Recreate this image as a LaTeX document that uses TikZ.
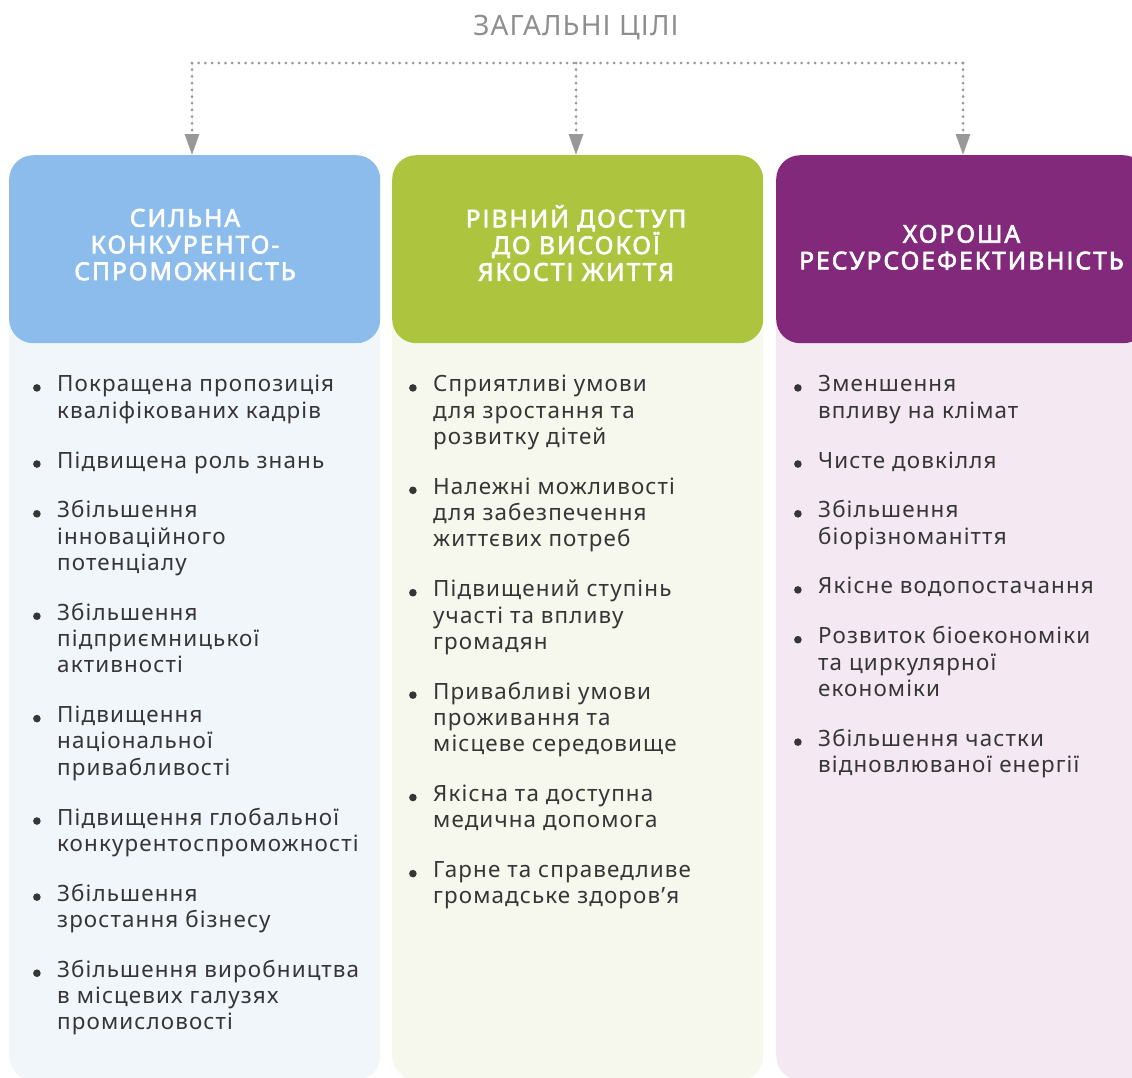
\documentclass[tikz,border=0pt]{standalone}
\usepackage{fontspec}
\setmainfont{Noto Sans}
\newfontfamily\bodyfont[LetterSpace=5]{Noto Sans}
\newfontfamily\titlefont[LetterSpace=4]{Noto Sans}
\newfontfamily\headfont[LetterSpace=8,FakeBold=2.6]{Noto Sans}
\usetikzlibrary{arrows.meta}
\definecolor{hblue}{HTML}{8BBCEB}
\definecolor{hgreen}{HTML}{ADC43F}
\definecolor{hpurple}{HTML}{82297C}
\definecolor{bblue}{HTML}{F1F6FB}
\definecolor{bgreen}{HTML}{F6F8ED}
\definecolor{bpurple}{HTML}{F4E9F2}
\definecolor{txt}{HTML}{363636}
\definecolor{ttl}{HTML}{8E8E8E}
\definecolor{dotc}{HTML}{989898}
\newcommand{\bul}{\llap{\raisebox{4pt}{\tikz[baseline=0pt]\fill[txt] (0pt,0pt) circle (3.8pt);}\hspace{16.5pt}}}
\newcommand{\fst}{\rule{0pt}{20pt}}
\newcommand{\gp}{23.5pt}
\begin{document}
\begin{tikzpicture}[x=1pt,y=-1pt,
  hdrbox/.style={rounded corners=24pt, minimum width=371pt, minimum height=188pt, inner sep=0pt, anchor=north west},
  bodybox/.style={rounded corners=24pt, minimum width=371pt, minimum height=880pt, inner sep=0pt, anchor=north west},
  hdrtext/.style={text=white, align=center, inner sep=0pt, anchor=north, font=\headfont\fontsize{24.6}{26.7}\selectfont},
  listtext/.style={text=txt, align=left, inner sep=0pt, anchor=north west, font=\bodyfont\fontsize{22.4}{26.3}\selectfont},
  dotline/.style={draw=dotc, line width=3pt, line cap=round, dash pattern=on 0pt off 6.7pt},
  dotarrow/.style={dotline, -{Triangle[length=21pt,width=14pt]}, fill=dotc}
]
\useasboundingbox (0,0) rectangle (1132,1077);

% title
\node[text=ttl, font=\titlefont\fontsize{28}{32}\selectfont, inner sep=0pt] (title) at (576,28) {ЗАГАЛЬНІ ЦІЛІ};

% body backgrounds
\node[bodybox, fill=bblue] (b1) at (9,200) {};
\node[bodybox, fill=bgreen] (b2) at (392,200) {};
\node[bodybox, fill=bpurple] (b3) at (776,200) {};

% headers
\node[hdrbox, fill=hblue] (h1) at (9,155) {};
\node[hdrbox, fill=hgreen] (h2) at (392,155) {};
\node[hdrbox, fill=hpurple] (h3) at (776,155) {};

\node[hdrtext] (h1t) at (185,206.5) {\fst СИЛЬНА\\КОНКУРЕНТО-\\СПРОМОЖНІСТЬ};
\node[hdrtext] (h2t) at (576,205) {\fst РІВНИЙ ДОСТУП\\ДО ВИСОКОЇ\\ЯКОСТІ ЖИТТЯ};
\node[hdrtext] (h3t) at (961.5,222.5) {\fst ХОРОША\\РЕСУРСОЕФЕКТИВНІСТЬ};

% connectors
\coordinate (c1) at (192,63);
\coordinate (c2) at (576,63);
\coordinate (c3) at (963,63);
\draw[dotline] (c1) -- (c3);
\draw[dotarrow] (c1) -- (c1 |- h1.north);
\draw[dotarrow] (c2) -- (c2 |- h2.north);
\draw[dotarrow] (c3) -- (c3 |- h3.north);

% lists
\node[listtext] (l1) at (57,371.7) {\fst\bul Покращена пропозиція\\кваліфікованих кадрів\\[\gp]
\bul Підвищена роль знань\\[\gp]
\bul Збільшення\\інноваційного\\потенціалу\\[\gp]
\bul Збільшення\\підприємницької\\активності\\[\gp]
\bul Підвищення\\національної\\привабливості\\[\gp]
\bul Підвищення глобальної\\конкурентоспроможності\\[\gp]
\bul Збільшення\\зростання бізнесу\\[\gp]
\bul Збільшення виробництва\\в місцевих галузях\\промисловості};

\node[listtext] (l2) at (433,371.7) {\fst\bul Сприятливі умови\\для зростання та\\розвитку дітей\\[\gp]
\bul Належні можливості\\для забезпечення\\життєвих потреб\\[\gp]
\bul Підвищений ступінь\\участі та впливу\\громадян\\[\gp]
\bul Привабливі умови\\проживання та\\місцеве середовище\\[\gp]
\bul Якісна та доступна\\медична допомога\\[\gp]
\bul Гарне та справедливе\\громадське здоров’я};

\node[listtext] (l3) at (818,371.7) {\fst\bul Зменшення\\впливу на клімат\\[\gp]
\bul Чисте довкілля\\[\gp]
\bul Збільшення\\біорізноманіття\\[\gp]
\bul Якісне водопостачання\\[\gp]
\bul Розвиток біоекономіки\\та циркулярної\\економіки\\[\gp]
\bul Збільшення частки\\відновлюваної енергії};
\end{tikzpicture}
\end{document}
